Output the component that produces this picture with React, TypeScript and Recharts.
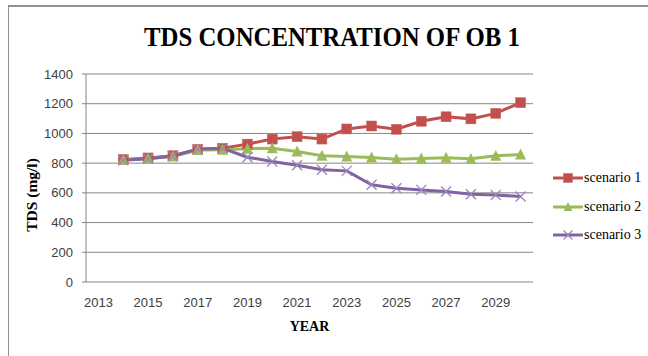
import { LineChart, Line, XAxis, YAxis, CartesianGrid, Legend } from 'recharts';

const years = [2013, 2014, 2015, 2016, 2017, 2018, 2019, 2020, 2021, 2022, 2023, 2024, 2025, 2026, 2027, 2028, 2029, 2030];
const scenario1 = [null, 825, 835, 850, 893, 900, 928, 962, 978, 962, 1030, 1050, 1028, 1082, 1112, 1098, 1135, 1207];
const scenario2 = [null, 822, 832, 845, 888, 890, 897, 900, 878, 850, 845, 838, 827, 831, 836, 829, 849, 858];
const scenario3 = [null, 820, 830, 848, 893, 900, 840, 811, 786, 755, 748, 654, 631, 620, 609, 591, 586, 575];
const yTicks = [0, 200, 400, 600, 800, 1000, 1200, 1400];
const yearLabels = years.filter((_, i) => i % 2 === 0);
const yearBounds = [...years.map((y) => y - 0.5), years[years.length - 1] + 0.5];

const data = years.map((year, i) => ({
  year,
  s1: scenario1[i],
  s2: scenario2[i],
  s3: scenario3[i],
}));

const RED = '#C0504D';
const GREEN = '#9BBB59';
const PURPLE = '#8064A2';
const AXIS = '#868686';
const TICK_FONT = { fontFamily: 'Liberation Sans, Arial, sans-serif', fontSize: 13, fill: '#404040' };

const Square = ({ cx, cy, size = 10 }: any) => {
  if (cx == null || cy == null) return null;
  return <rect x={cx - size / 2} y={cy - size / 2} width={size} height={size} fill={RED} stroke="#D0625F" strokeWidth={0.5} />;
};

const Triangle = ({ cx, cy, size = 11 }: any) => {
  if (cx == null || cy == null) return null;
  const h = size * 0.9;
  return (
    <polygon
      points={`${cx},${cy - h / 2 - 1} ${cx - size / 2},${cy + h / 2} ${cx + size / 2},${cy + h / 2}`}
      fill={GREEN}
    />
  );
};

const Cross = ({ cx, cy, size = 10 }: any) => {
  if (cx == null || cy == null) return null;
  const r = size / 2;
  return (
    <g stroke="#9A84BC" strokeWidth={1.3}>
      <line x1={cx - r} y1={cy - r} x2={cx + r} y2={cy + r} />
      <line x1={cx - r} y1={cy + r} x2={cx + r} y2={cy - r} />
    </g>
  );
};

const series = [
  { key: 's1', name: 'scenario 1', color: RED, Marker: Square },
  { key: 's2', name: 'scenario 2', color: GREEN, Marker: Triangle },
  { key: 's3', name: 'scenario 3', color: PURPLE, Marker: Cross },
];

const renderLegend = () => (
  <div>
    {series.map((s) => (
      <div key={s.key} style={{ display: 'flex', alignItems: 'center', height: 28.5 }}>
        <svg width={30} height={14}>
          <line x1={0} y1={7} x2={30} y2={7} stroke={s.color} strokeWidth={3} />
          <s.Marker cx={15} cy={7} size={9} />
        </svg>
        <span style={{ fontFamily: 'Liberation Serif, Times New Roman, serif', fontSize: 14, color: '#000', marginLeft: 1 }}>
          {s.name}
        </span>
      </div>
    ))}
  </div>
);

export default function App() {
  return (
    <div style={{ position: 'absolute', left: 0, top: 0, width: 648, height: 356, background: '#fff' }}>
      <div style={{ position: 'absolute', left: 8, top: 5, width: 640, height: 351, borderLeft: '1.5px solid #909090', borderTop: '2px solid #909090' }} />
      <div
        style={{
          position: 'absolute',
          left: 0,
          width: 664,
          top: 21,
          textAlign: 'center',
          fontFamily: 'Liberation Serif, Times New Roman, serif',
          fontWeight: 'bold',
          fontSize: 28,
          color: '#000',
          transform: 'scaleX(0.885)',
          whiteSpace: 'nowrap',
        }}
      >
        TDS CONCENTRATION OF OB 1
      </div>
      <LineChart
        width={648}
        height={356}
        data={data}
        margin={{ top: 74, right: 115, bottom: 44, left: 8 }}
        style={{ position: 'absolute', left: 0, top: 0 }}
      >
        <CartesianGrid vertical={false} stroke={AXIS} strokeWidth={1} />
        <XAxis
          xAxisId="grid"
          dataKey="year"
          type="number"
          domain={[yearBounds[0], yearBounds[yearBounds.length - 1]]}
          ticks={yearBounds}
          tickFormatter={() => ''}
          tickSize={5}
          height={0}
          allowDataOverflow
          axisLine={{ stroke: AXIS }}
          tickLine={{ stroke: AXIS }}
          interval={0}
        />
        <XAxis
          xAxisId="labels"
          dataKey="year"
          type="number"
          domain={[yearBounds[0], yearBounds[yearBounds.length - 1]]}
          ticks={yearLabels}
          interval={0}
          allowDataOverflow
          axisLine={false}
          tickLine={false}
          tickSize={0}
          tickMargin={16}
          height={30}
          tick={TICK_FONT}
          label={{
            content: ({ viewBox }: any) => (
              <text
                x={viewBox.x + viewBox.width / 2}
                y={331}
                textAnchor="middle"
                style={{ fontFamily: 'Liberation Serif, Times New Roman, serif', fontWeight: 'bold', fontSize: 14, fill: '#000' }}
              >
                YEAR
              </text>
            ),
          }}
        />
        <YAxis
          domain={[0, 1400]}
          ticks={yTicks}
          interval={0}
          width={78}
          tickSize={4}
          tickMargin={9}
          tick={TICK_FONT}
          axisLine={{ stroke: AXIS }}
          tickLine={{ stroke: AXIS }}
          label={{
            content: () => (
              <text
                x={33}
                y={195}
                transform="rotate(-90 33 195)"
                textAnchor="middle"
                dominantBaseline="middle"
                style={{ fontFamily: 'Liberation Serif, Times New Roman, serif', fontWeight: 'bold', fontSize: 15.5, fill: '#000' }}
              >
                TDS (mg/l)
              </text>
            ),
          }}
        />
        <Legend
          layout="vertical"
          align="center"
          verticalAlign="middle"
          wrapperStyle={{ left: 553, top: 164, width: 95 }}
          content={renderLegend}
        />
        {series.map((s) => (
          <Line
            key={s.key}
            xAxisId="grid"
            dataKey={s.key}
            name={s.name}
            stroke={s.color}
            strokeWidth={3}
            dot={(p: any) => <s.Marker key={`${s.key}-${p.index}`} cx={p.cx} cy={p.cy} />}
            activeDot={false}
            isAnimationActive={false}
            connectNulls={false}
          />
        ))}
      </LineChart>
    </div>
  );
}
